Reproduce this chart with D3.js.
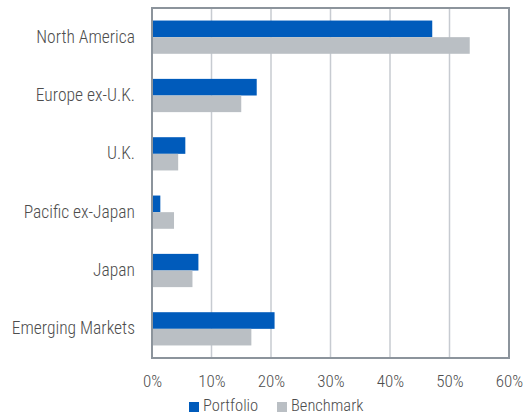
<!DOCTYPE html>
<html><head><meta charset="utf-8">
<script src="https://cdn.jsdelivr.net/npm/d3@7"></script>
<style>
html,body{margin:0;padding:0;background:#fff;}
text{font-family:"Roboto Condensed","Liberation Sans Narrow",Roboto,sans-serif;font-weight:300;fill:#4d4d4d;}
</style></head>
<body><svg id="chart" width="529" height="415"></svg>
<script>
const categories = ["North America","Europe ex-U.K.","U.K.","Pacific ex-Japan","Japan","Emerging Markets"];
const seriesNames = ["Portfolio","Benchmark"];
const portfolio = [47.1, 17.6, 5.6, 1.4, 7.8, 20.6];
const benchmark = [53.4, 15.0, 4.4, 3.7, 6.8, 16.7];
const xTicks = [0,10,20,30,40,50,60];
const colors = ["#005bbb","#babfc4"];

(function(){
const svg = d3.select("#chart");
const mL = 152, mR = 509, mT = 8, mB = 358;
const x = d3.scaleLinear().domain([0,60]).range([mL,mR]);
const y = d3.scaleBand().domain(categories).range([mT,mB]).paddingInner(0.43).paddingOuter(0.215);
const ySub = d3.scaleBand().domain(seriesNames).range([0,y.bandwidth()]);

svg.append("g").selectAll("line").data(xTicks.slice(1,-1)).join("line")
  .attr("x1",d=>x(d)).attr("x2",d=>x(d)).attr("y1",mT).attr("y2",mB)
  .attr("stroke","#c7cbd1").attr("stroke-width",1.5);

const data = categories.map((c,i)=>({cat:c, vals:[portfolio[i],benchmark[i]]}));
const g = svg.append("g");
data.forEach(d=>{
  d.vals.forEach((v,j)=>{
    g.append("rect").attr("x",x(0)).attr("y",y(d.cat)+ySub(seriesNames[j]))
     .attr("width",x(v)-x(0)).attr("height",ySub.bandwidth()).attr("fill",colors[j]);
  });
});

svg.append("rect").attr("x",mL).attr("y",mT).attr("width",mR-mL).attr("height",mB-mT)
  .attr("fill","none").attr("stroke","#8c949c").attr("stroke-width",2);

const xAxis = d3.axisBottom(x).tickValues(xTicks).tickFormat(d=>d+"%").tickSize(0).tickPadding(0);
const xa = svg.append("g").attr("transform",`translate(0,${mB+14})`).call(xAxis);
xa.attr("font-family",null).attr("font-size",17);
xa.select(".domain").remove();
xa.selectAll("text").attr("dy","0.9em").attr("fill",null);

const yAxis = d3.axisLeft(y).tickSize(0).tickPadding(0);
const ya = svg.append("g").attr("transform",`translate(${mL-17},0)`).call(yAxis);
ya.attr("font-family",null).attr("font-size",17.5);
ya.select(".domain").remove();
ya.selectAll("text").attr("fill",null);

const leg = svg.append("g");
const legX = [189, 277];
seriesNames.forEach((s,i)=>{
  leg.append("rect").attr("x",legX[i]).attr("y",402).attr("width",10).attr("height",10).attr("fill",colors[i]);
  leg.append("text").attr("x",legX[i]+14).attr("y",411).attr("font-size",16.5).text(s);
});
})();
</script></body></html>
